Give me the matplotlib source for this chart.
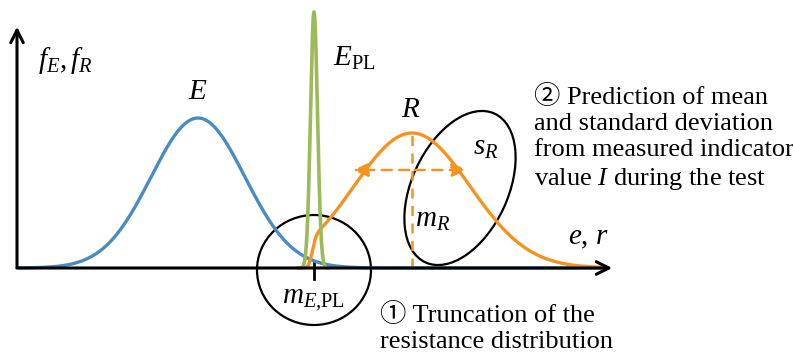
import math
import numpy as np
import matplotlib
matplotlib.use("Agg")
import matplotlib.pyplot as plt
from matplotlib.patches import Ellipse

plt.rcParams['mathtext.fontset'] = 'custom'
plt.rcParams['mathtext.rm'] = 'Liberation Serif'
plt.rcParams['mathtext.it'] = 'Liberation Serif:italic'
plt.rcParams['font.family'] = ['Liberation Serif', 'Noto Sans CJK JP', 'DejaVu Sans']

# distribution parameters (drawing units: x along e/r axis, y = density height)
E_mean, E_sd, E_peak = 198, 47, 150
EPL_mean, EPL_sd, EPL_peak = 314, 3.5, 256
R_mean, R_sd, R_peak = 412, 58, 135
trunc_at, trunc_sd = 312, 3.0

x_start, x_end = 20, 600
axis_end = 615

blue = '#4A8BC2'
green = '#9BBB59'
orange = '#F39422'


def bell(x, m, s, h):
    return h * np.exp(-(x - m) ** 2 / (2 * s ** 2))


x = np.linspace(x_start, x_end, 1200)
f_E = bell(x, E_mean, E_sd, E_peak)
x_pl = np.linspace(EPL_mean - 14, EPL_mean + 14, 200)
f_PL = bell(x_pl, EPL_mean, EPL_sd, EPL_peak)
cdf = np.array([0.5 * (1 + math.erf((v - trunc_at) / (trunc_sd * math.sqrt(2)))) for v in x])
f_R = bell(x, R_mean, R_sd, R_peak) * cdf
keep = x >= trunc_at - 14

fig = plt.figure(figsize=(7.93, 3.54), dpi=100)
ax = fig.add_axes([0, 0, 1, 1])
ax.set_xlim(0, 793)
ax.set_ylim(-86, 268)
ax.axis('off')

# axes arrows
ax.annotate('', xy=(axis_end, 0), xytext=(14, 0),
            arrowprops=dict(arrowstyle='->,head_length=0.9,head_width=0.45', lw=2.2, color='black'))
ax.annotate('', xy=(17, 244), xytext=(17, -1),
            arrowprops=dict(arrowstyle='->,head_length=0.9,head_width=0.45', lw=2.2, color='black'))
ax.plot([EPL_mean, EPL_mean], [-11, 6], color='black', lw=2)

# curves
ax.plot(x, f_E, color=blue, lw=2.4)
ax.plot(x[keep], f_R[keep], color=orange, lw=2.4)
ax.plot(x_pl, f_PL, color=green, lw=2.6)

# mean / std indicators
ax.plot([R_mean, R_mean], [0, R_peak], color=orange, lw=1.8, ls=(0, (4, 3)))
arr_y = 98
ax.annotate('', xy=(R_mean - R_sd - 4, arr_y), xytext=(R_mean, arr_y),
            arrowprops=dict(arrowstyle='-|>,head_length=0.9,head_width=0.4', lw=1.8,
                            color=orange, ls=(0, (4, 3))))
ax.annotate('', xy=(R_mean + R_sd, arr_y), xytext=(R_mean, arr_y),
            arrowprops=dict(arrowstyle='-|>,head_length=0.9,head_width=0.4', lw=1.8,
                            color=orange, ls=(0, (4, 3))))

# ellipses
ax.add_patch(Ellipse((314, -2), 114, 110, fill=False, lw=1.6, color='black'))
ax.add_patch(Ellipse((460, 80), 96, 164, angle=-25, fill=False, lw=1.6, color='black'))

# labels
fs = 21
ax.text(38, 208, r'$f_E, f_R$', fontsize=fs, ha='left', va='center')
ax.text(198, 176, r'$E$', fontsize=fs, ha='center', va='center')
ax.text(333, 210, r'$E_{\mathrm{PL}}$', fontsize=fs, ha='left', va='center')
ax.text(411, 158, r'$R$', fontsize=fs, ha='center', va='center')
ax.text(486, 120, r'$s_R$', fontsize=fs, ha='center', va='center')
ax.text(433, 48, r'$m_R$', fontsize=fs, ha='center', va='center')
ax.text(568, 30, r'$e$, $r$', fontsize=fs, ha='left', va='center')
ax.text(313, -32, r'$m_{E{,}\mathrm{PL}}$', fontsize=fs, ha='center', va='center')

fs2 = 19
ax.text(380, -80, '\u2460 Truncation of the\nresistance distribution', fontsize=fs2,
        ha='left', va='baseline', linespacing=1.25)
ax.text(534, 83, '\u2461 Prediction of mean\nand standard deviation\nfrom measured indicator\n'
        'value $I$ during the test', fontsize=fs2, ha='left', va='baseline', linespacing=1.25)

fig.savefig('out.png', dpi=100)
